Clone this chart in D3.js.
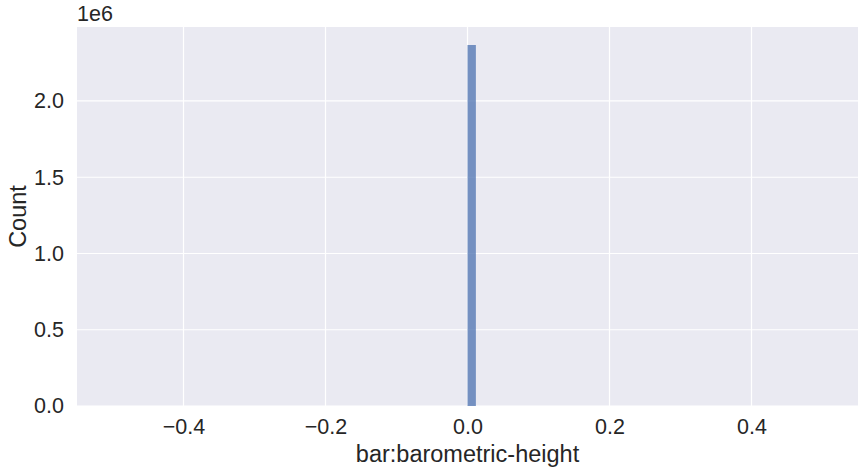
<!DOCTYPE html>
<html><head><meta charset="utf-8">
<script src="https://cdn.jsdelivr.net/npm/d3@7"></script>
<style>body{margin:0;background:#fff;} svg{display:block;} text{font-family:"Liberation Sans",Arial,sans-serif;fill:#262626;}</style>
</head><body>
<svg id="c" width="864" height="472"></svg>
<script>
const binStarts = [0.0];
const binEnds = [0.0118];
const counts = [2367000];
const xTicks = [-0.4, -0.2, 0.0, 0.2, 0.4];
const yTicks = [0, 500000, 1000000, 1500000, 2000000];
const xLabel = "bar:barometric-height";
const yLabel = "Count";

const svg = d3.select("#c");
const m = {l:77, r:6, t:27, b:66};
const W = 864, H = 472;
const x = d3.scaleLinear().domain([-0.55, 0.55]).range([m.l, W - m.r]);
const y = d3.scaleLinear().domain([0, 2485000]).range([H - m.b, m.t]);

svg.append("rect").attr("x", m.l).attr("y", m.t)
  .attr("width", W - m.r - m.l).attr("height", H - m.b - m.t).attr("fill", "#eaeaf2");

const g = svg.append("g");
g.selectAll(".gx").data(xTicks).join("line")
  .attr("x1", d => x(d)).attr("x2", d => x(d)).attr("y1", m.t).attr("y2", H - m.b)
  .attr("stroke", "#fff").attr("stroke-width", 1.2);
g.selectAll(".gy").data(yTicks).join("line")
  .attr("y1", d => y(d)).attr("y2", d => y(d)).attr("x1", m.l).attr("x2", W - m.r)
  .attr("stroke", "#fff").attr("stroke-width", 1.2);

svg.selectAll(".bar").data(counts).join("rect")
  .attr("x", (d, i) => x(binStarts[i]))
  .attr("width", (d, i) => x(binEnds[i]) - x(binStarts[i]))
  .attr("y", d => y(d)).attr("height", d => y(0) - y(d))
  .attr("fill", "#4c72b0").attr("fill-opacity", 0.75);

const fmt = d3.format(".1f");
const xAxis = svg.append("g").attr("transform", `translate(0,${H - m.b})`)
  .call(d3.axisBottom(x).tickValues(xTicks).tickSize(0).tickPadding(13)
    .tickFormat(d => fmt(d).replace("-", "\u2212")));
xAxis.select(".domain").remove();
xAxis.selectAll("text").attr("font-size", 21.5).style("font-family", '"Liberation Sans",Arial,sans-serif').attr("fill", "#262626");

const yAxis = svg.append("g").attr("transform", `translate(${m.l},0)`)
  .call(d3.axisLeft(y).tickValues(yTicks).tickSize(0).tickPadding(13)
    .tickFormat(d => fmt(d / 1e6)));
yAxis.select(".domain").remove();
yAxis.selectAll("text").attr("font-size", 21.5).style("font-family", '"Liberation Sans",Arial,sans-serif').attr("fill", "#262626");

svg.append("text").attr("x", m.l).attr("y", 21).attr("font-size", 21.5).text("1e6");
svg.append("text").attr("x", (m.l + W - m.r) / 2).attr("y", 462)
  .attr("text-anchor", "middle").attr("font-size", 23.5).text(xLabel);
svg.append("text").attr("transform", `translate(26,${(m.t + H - m.b) / 2}) rotate(-90)`)
  .attr("text-anchor", "middle").attr("font-size", 23.5).text(yLabel);
</script>
</body></html>
